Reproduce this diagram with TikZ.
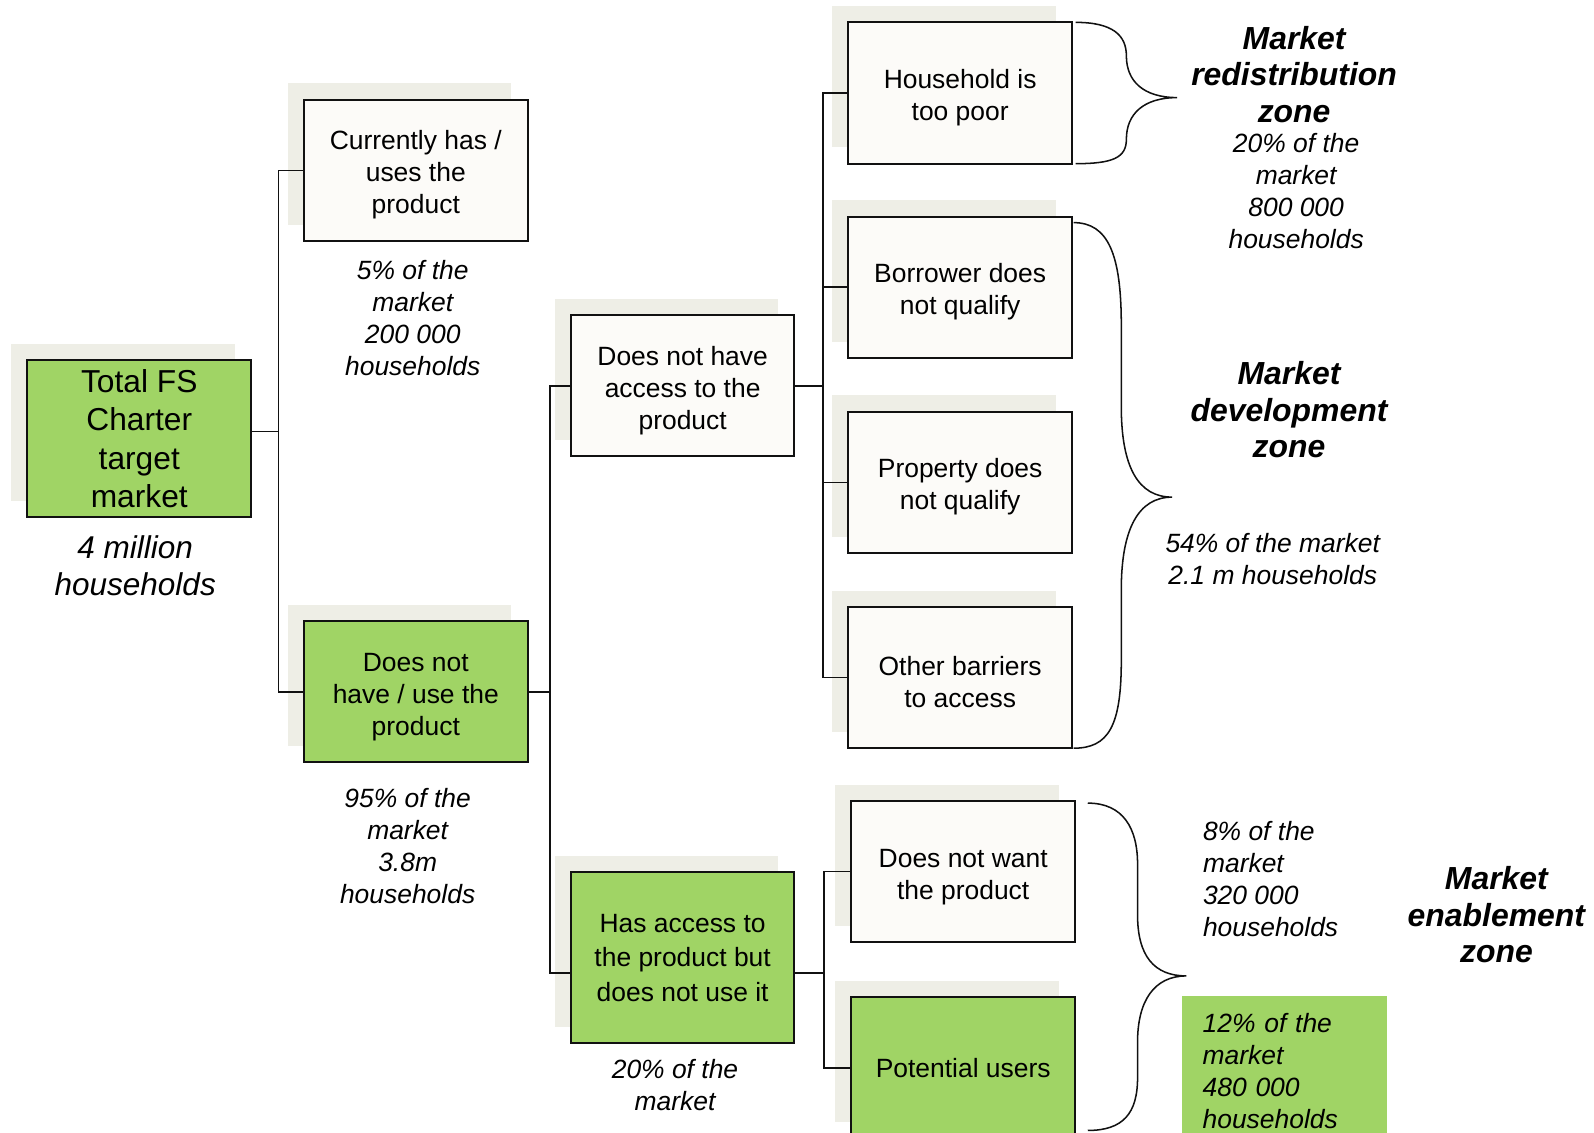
\documentclass[tikz,border=0pt]{standalone}
\usepackage{fontspec}
\setmainfont{Liberation Sans}
\usetikzlibrary{shadows}
\definecolor{ChartGreen}{HTML}{A0D465}
\definecolor{ChartPaper}{HTML}{FCFBF8}
\definecolor{ChartShade}{HTML}{EEEEE6}
\definecolor{ChartInk}{HTML}{111111}
\newcommand{\boxstrut}{\rule{0pt}{14pt}}
\tikzset{
  box/.style={draw=ChartInk,line width=1pt,fill=ChartPaper,minimum width=110pt,minimum height=69.5pt,
    inner sep=0pt,align=center,font=\fontsize{13}{15.75}\selectfont,
    general shadow={fill=ChartShade,shadow xshift=-8pt,shadow yshift=8pt}},
  greenbox/.style={box,fill=ChartGreen},
  stat/.style={align=center,inner sep=0pt,font=\fontsize{13}{15.75}\selectfont\itshape},
  zone/.style={align=center,inner sep=0pt,font=\fontsize{15.7}{18}\selectfont\bfseries\itshape},
  link/.style={ChartInk,line width=0.75pt},
  zonebrace/.style={ChartInk,line width=0.75pt}
}
\begin{document}
\begin{tikzpicture}[x=0.5pt,y=-0.5pt]
  \useasboundingbox (0,0) rectangle (1568,1114);
  \clip (0,0) rectangle (1568,1114);
  \node[greenbox,minimum height=77pt,font=\fontsize{15.6}{18.75}\selectfont] (total) at (137,431.5) {Total FS\\Charter\\target\\market};
  \node[stat,font=\fontsize{15.5}{18.5}\selectfont\itshape] (totalpct) at (133,556.5) {4 million\\households};
  \node[box] (current) at (409,167.5) {\boxstrut Currently has /\\uses the\\product};
  \node[stat] (currentpct) at (406,312.5) {5\% of the\\market\\200 000\\households};
  \node[greenbox] (nouse) at (409,680.5) {\boxstrut Does not\\have / use the\\product};
  \node[stat] (nousepct) at (401,832.5) {95\% of the\\market\\3.8m\\households};
  \node[box] (noaccess) at (671.5,379.5) {\boxstrut Does not have\\access to the\\product};
  \node[greenbox,minimum height=84pt,font=\fontsize{13}{17}\selectfont] (access) at (671.5,942) {Has access to\\the product but\\does not use it};
  \node[stat] (accesspct) at (664,1067) {20\% of the\\market};
  \node[box] (poor) at (944.5,91.5) {\boxstrut Household is\\too poor};
  \node[box] (borrower) at (944.5,282.5) {\boxstrut Borrower does\\not qualify};
  \node[box] (property) at (944.5,474.5) {\boxstrut Property does\\not qualify};
  \node[box] (other) at (944.5,666.5) {\boxstrut Other barriers\\to access};
  \node[box] (nowant) at (947.5,857.5) {\boxstrut Does not want\\the product};
  \node[greenbox] (potential) at (947.5,1050.5) {Potential users};

  \draw[link] ([yshift=3.5pt]total.east) -- ++(26,0) coordinate (t1);
  \draw[link] (current.west) -| (t1) |- (nouse.west);
  \draw[link] (nouse.east) -- ++(21,0) coordinate (t2);
  \draw[link] (noaccess.west) -| (t2) |- ([yshift=-7.5pt]access.west);
  \draw[link] (noaccess.east) -- ++(27,0) coordinate (t3);
  \draw[link] (poor.west) -| (t3) |- (other.west);
  \draw[link] (t3 |- borrower.west) -- (borrower.west);
  \draw[link] (t3 |- property.west) -- (property.west);
  \draw[link] ([yshift=-7.5pt]access.east) -- ++(28,0) coordinate (t4);
  \draw[link] (nowant.west) -| (t4) |- (potential.west);

  \draw[zonebrace] (1058,22) .. controls (1095,22) and (1108,35) .. (1108,55)
    .. controls (1108,80) and (1125,96) .. (1158,96)
    .. controls (1125,96) and (1108,112) .. (1108,137)
    .. controls (1108,155) and (1095,161) .. (1058,161);
  \draw[zonebrace] (1056,219) .. controls (1090,219) and (1103,250) .. (1103,320) -- (1103,400)
    .. controls (1103,460) and (1120,489) .. (1153,489)
    .. controls (1120,489) and (1103,520) .. (1103,580) -- (1103,650)
    .. controls (1103,715) and (1090,736) .. (1056,736);
  \draw[zonebrace] (1070,790) .. controls (1105,790) and (1119,815) .. (1119,850) -- (1119,900)
    .. controls (1119,940) and (1135,960) .. (1167,960)
    .. controls (1135,960) and (1119,985) .. (1119,1025) -- (1119,1060)
    .. controls (1119,1095) and (1105,1112) .. (1070,1112);

  \node[zone] (redist) at (1273,73) {Market\\redistribution\\zone};
  \node[stat] (redistpct) at (1275,188) {20\% of the\\market\\800 000\\households};
  \node[zone] (develop) at (1268,403) {Market\\development\\zone};
  \node[stat] (developpct) at (1252,550) {54\% of the market\\2.1 m households};
  \node[zone] (enable) at (1472,900) {Market\\enablement\\zone};
  \node[stat,align=left,anchor=west] (enablepct) at (1183,864.5) {8\% of the\\market\\320 000\\households};
  \node[stat,align=left,fill=ChartGreen,minimum width=100.5pt,minimum height=74pt,text width=80.5pt] (usepct) at (1263.5,1054) {12\% of the\\market\\480 000\\households};
\end{tikzpicture}
\end{document}
